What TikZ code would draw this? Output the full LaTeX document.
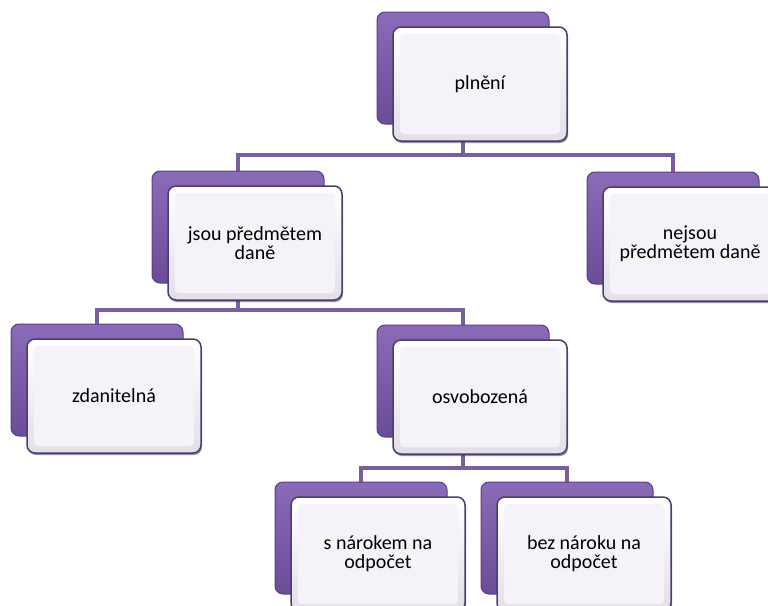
\documentclass[tikz,border=0pt]{standalone}
\usepackage{fontspec}
\setmainfont{Carlito}
\definecolor{conncol}{HTML}{7A5E9E}
\definecolor{backtop}{HTML}{8A6BB8}
\definecolor{backbot}{HTML}{6B4C98}
\definecolor{backedge}{HTML}{5B3F86}
\definecolor{frontedge}{HTML}{4E3C6C}
\definecolor{frontbot}{HTML}{E2DFE8}
\definecolor{innerfill}{HTML}{F5F3F9}
\definecolor{shadowcol}{HTML}{3E2F58}
\tikzset{
  conn/.style={draw=conncol, line width=3.5pt},
  backbox/.style={rectangle, rounded corners=8pt, minimum width=172pt, minimum height=112pt,
    top color=backtop, bottom color=backbot, draw=backedge, line width=1pt, inner sep=0pt},
  shadowbox/.style={rectangle, rounded corners=8pt, minimum width=174pt, minimum height=114pt,
    fill=shadowcol, opacity=0.55, inner sep=0pt},
  frontbox/.style={rectangle, rounded corners=8pt, minimum width=174pt, minimum height=114pt,
    top color=white, bottom color=frontbot, draw=frontedge, line width=1.5pt,
    align=center, text=black, inner sep=2pt, font=\fontsize{20}{19}\selectfont,
    path picture={\fill[innerfill, rounded corners=4pt]
      ([shift={(7pt,-7pt)}]path picture bounding box.north west) rectangle
      ([shift={(-7pt,7pt)}]path picture bounding box.south east);}},
}
\begin{document}
\begin{tikzpicture}[x=1pt, y=-1pt]
\clip (0,0) rectangle (768,605);
\fill[white] (0,0) rectangle (768,605);
% bus coordinates
\coordinate (bus1) at (0,155);
\coordinate (bus2) at (0,310);
\coordinate (bus3) at (0,468);
% back boxes (positions)
\path (463,68) coordinate (cP);
\path (238,227) coordinate (cJ);
\path (673,228) coordinate (cN);
\path (97,380) coordinate (cZ);
\path (463,381) coordinate (cO);
\path (361,538) coordinate (cS);
\path (567,538) coordinate (cB);
% connectors
\draw[conn] (cP) -- (cP |- bus1) coordinate (j1);
\draw[conn] (cJ) |- (j1) -| (cN);
\draw[conn] (cJ) -- (cJ |- bus2) coordinate (j2);
\draw[conn] (cZ) |- (j2) -| (cO);
\draw[conn] (cO) -- (cO |- bus3) coordinate (j3);
\draw[conn] (cS) |- (j3) -| (cB);
% nodes
\foreach \n/\t in {P/pln\v{e}n\'{\i}, J/{jsou p\v{r}edm\v{e}tem\\dan\v{e}}, N/{nejsou\\p\v{r}edm\v{e}tem dan\v{e}}, Z/zdaniteln\'{a}, O/osvobozen\'{a}, S/{s n\'{a}rokem na\\odpo\v{c}et}, B/{bez n\'{a}roku na\\odpo\v{c}et}}{
  \node[backbox] (\n b) at (c\n) {};
  \node[shadowbox] (\n s) at ([shift={(18,18)}]c\n) {};
  \node[frontbox] (\n) at ([shift={(17,16)}]c\n) {\t};
}
\end{tikzpicture}
\end{document}
